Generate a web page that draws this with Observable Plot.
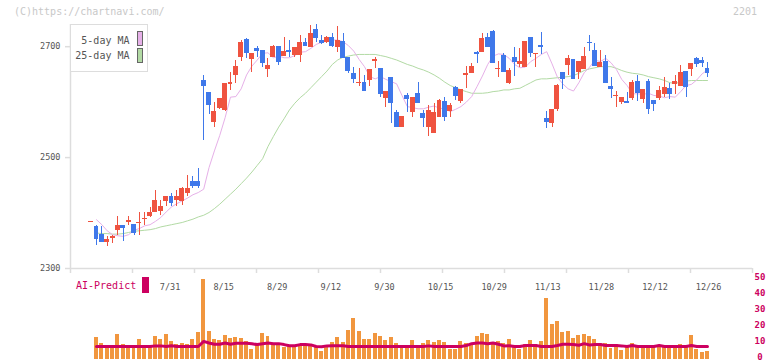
<!DOCTYPE html>
<html><head><meta charset="utf-8">
<script src="https://cdn.jsdelivr.net/npm/d3@7"></script>
<script src="https://cdn.jsdelivr.net/npm/@observablehq/plot@0.6"></script>
<style>
body{margin:0;background:#fff;}
#wrap{position:relative;width:772px;height:361px;overflow:hidden;font-family:"DejaVu Sans Mono",monospace;}
#wrap svg{position:absolute;left:0;}
.abs{position:absolute;white-space:nowrap;line-height:12px;}
</style></head><body><div id="wrap"></div>
<script>
// ---- data (index -1 is the first, volume-less bar) ----
const firstIndex = -1;
const open  = [2383,2376,2361,2347,2355,2369,2378,2383,2379,2381,2388,2394,2401,2403,2420,2430,2423,2420,2436,2456,2456,
2639,2618,2564,2588,2585,2631,2648,2681,2713,2677,2696,2693,2659,2680,2700,2682,2693,2684,2684,2708,
2699,2731,2712,2708,2716,2699,2709,2681,2652,2634,2636,2639,2674,2660,2607,2645,2582,2555,2612,2582,
2616,2580,2555,2544,2572,2601,2583,2627,2601,2648,2652,2689,2689,2716,2727,2658,2684,2633,2680,2668,
2663,2716,2686,2702,2571,2562,2586,2653,2666,2677,2654,2658,2707,2693,2663,2674,2628,2610,2600,2601,
2607,2637,2605,2637,2603,2606,2614,2625,2632,2628,2655,2658,2678,2675,2660];
const high  = [2383,2378,2376,2358,2360,2394,2378,2394,2379,2401,2401,2410,2441,2423,2430,2435,2441,2446,2468,2466,2481,
2648,2618,2600,2607,2633,2654,2675,2711,2715,2688,2700,2693,2679,2702,2700,2717,2711,2699,2720,2714,
2738,2740,2720,2718,2723,2736,2723,2681,2663,2660,2648,2658,2681,2660,2619,2645,2585,2574,2615,2608,
2636,2585,2594,2597,2604,2609,2598,2628,2623,2664,2669,2691,2723,2723,2729,2674,2687,2660,2698,2696,
2709,2716,2688,2725,2583,2587,2632,2653,2684,2677,2673,2698,2720,2705,2693,2684,2645,2619,2609,2618,
2639,2648,2623,2640,2603,2629,2645,2633,2648,2666,2655,2670,2681,2681,2672];
const low   = [2383,2342,2346,2340,2345,2360,2349,2378,2360,2360,2378,2392,2401,2396,2411,2411,2411,2414,2429,2445,2445,
2531,2578,2555,2586,2583,2621,2633,2674,2678,2654,2680,2662,2645,2680,2666,2682,2681,2681,2672,2700,
2698,2708,2704,2705,2698,2690,2679,2651,2634,2629,2620,2629,2660,2608,2591,2562,2554,2554,2582,2572,
2598,2555,2538,2543,2572,2565,2573,2603,2598,2624,2651,2670,2689,2698,2670,2645,2654,2632,2647,2663,
2663,2680,2662,2686,2552,2554,2583,2622,2648,2641,2641,2658,2692,2664,2663,2634,2607,2591,2596,2597,
2603,2601,2598,2578,2583,2603,2608,2605,2614,2628,2608,2647,2663,2663,2645];
const close = [2383,2353,2347,2352,2358,2378,2373,2387,2364,2383,2391,2401,2423,2412,2430,2418,2430,2445,2444,2448,2447,
2629,2594,2583,2606,2633,2636,2664,2708,2687,2688,2692,2670,2666,2700,2672,2691,2690,2698,2707,2700,
2723,2714,2705,2716,2701,2711,2679,2655,2641,2636,2620,2658,2676,2614,2619,2598,2555,2574,2605,2608,
2598,2571,2585,2582,2603,2573,2594,2611,2623,2651,2664,2686,2715,2698,2670,2660,2654,2657,2671,2673,
2709,2687,2688,2699,2564,2587,2630,2641,2679,2641,2673,2682,2705,2664,2672,2634,2623,2612,2608,2598,
2635,2616,2623,2587,2596,2621,2627,2614,2637,2654,2627,2670,2667,2670,2652];
// moving averages, from index 0
const ma5 = [2388,2379,2368,2361,2359,2358,2361,2369,2372,2377,2379,2385,2392,2402,2411,2417,2422,2427,2433,2437,
2443,2482,2512,2540,2572,2609,2610,2624,2649,2665,2676,2688,2689,2680,2683,2680,2680,2684,2690,2691,
2697,2704,2708,2710,2712,2712,2709,2702,2692,2677,2664,2646,2642,2646,2641,2637,2633,2612,2592,2590,
2588,2588,2591,2593,2589,2588,2583,2587,2592,2600,2610,2628,2647,2668,2683,2687,2686,2679,2668,2662,
2663,2673,2679,2686,2691,2669,2645,2633,2624,2620,2635,2653,2663,2676,2673,2679,2671,2659,2641,2630,
2615,2615,2614,2616,2612,2611,2608,2610,2609,2619,2630,2632,2640,2651,2658];
const ma25 = [2364,2363,2363,2362,2362,2363,2365,2367,2368,2369,2370,2372,2375,2377,2379,2381,2383,2386,2389,2393,
2396,2401,2408,2416,2425,2434,2443,2453,2463,2474,2486,2498,2520,2538,2555,2570,2586,2598,2608,2616,
2626,2636,2646,2656,2668,2676,2681,2683,2685,2686,2686,2686,2686,2684,2682,2679,2676,2672,2668,2665,
2661,2658,2654,2649,2643,2636,2630,2626,2622,2619,2616,2616,2616,2617,2619,2620,2622,2622,2624,2625,
2630,2635,2640,2642,2642,2643,2644,2645,2646,2648,2652,2657,2660,2662,2664,2664,2664,2661,2657,2654,
2652,2651,2649,2646,2644,2642,2639,2635,2634,2636,2638,2639,2639,2639,2639];
const volume = [13.6,9.9,7,7,15.3,9.1,7,7,12.2,7.4,7.4,14.1,12.2,15.3,11.1,9.1,9.9,9.1,12.2,16.8,
49.7,17.2,12.2,11.6,14.7,13,13.6,13,10.7,6.1,9,16.2,14.1,10,10,7.4,8.3,8.3,9,8.5,
8,7,4.9,7.8,10.5,13.6,10.5,17.8,25.5,17.2,12.2,12.2,16.2,14.1,11.6,13.6,9.9,7.8,7.8,11.6,
7.8,9.9,11.6,10.5,11.6,10.5,5.9,5.9,11,9.9,9.1,14.1,16.2,15.3,9.9,11,9.9,12.2,7.4,5.9,
9.2,11.6,9.1,11,38,21.6,23.4,16.7,17.2,13,14.7,15.4,14.1,12.2,9.8,9.8,6.8,9.1,5.3,7.8,
9.7,7.8,7.8,7.8,7.8,7.8,7.8,7.8,7.8,9.1,7.8,14.7,5.9,4.3,4.9];
const aiPredict = [7.8,7.8,7.8,7.8,7.8,7.8,7.8,7.8,7.8,7.8,7.8,8.2,8.2,7.8,8.3,7.8,7.8,7.8,7.8,7.8,
11,10,9.2,9.2,10,9.2,9.8,9.8,9.8,9.5,9,9.5,10,9.6,9.6,9,8.3,8.3,9,9,
8.8,7.8,7.6,8.2,8.3,8.3,8.3,7.8,7.8,7.8,7.8,7.8,7.8,7.8,7.8,7.8,7.8,7.8,7.8,7.8,
7.8,7.8,8.2,7.8,7.8,7.8,7.8,7.8,7.8,8.4,9.6,10,10,9.6,10,9.2,8.2,8.3,7.8,7.8,
8.4,8.4,8.4,7.8,7.8,7.8,8.4,9.2,9.2,9,8.6,9.6,8.8,9,9,8.4,8.4,8.4,8.2,7.8,
8.4,7.8,7.8,7.8,7.8,8.4,7.8,7.8,7.8,7.8,7.8,8.4,7.8,7.8,7.8];
const dateLabels = ["7/31","8/15","8/29","9/12","9/30","10/15","10/29","11/13","11/28","12/12","12/26"];
const dateLabelIndex = [12,22,32,42,52,62,72,82,92,102,112];
const priceTicks = [2300,2500,2700];
const volumeTicks = [0,10,20,30,40,50];
const legendLabels = ["5-day MA","25-day MA"];
const watermark = "(C)https://chartnavi.com/";
const code = "2201";
const aiLabel = "AI-Predict";

// ---- styles ----
const UP = "#ef5340", DOWN = "#3f78ea", PINK = "#e6b0e8", GREEN = "#b2daa4";
const ORANGE = "#f1963e", CRIMSON = "#cc0060", AXIS = "#dddddd", TXT = "#555555";

const candles = open.map((o,k)=>({i:k+firstIndex,o,h:high[k],l:low[k],c:close[k]}));
const up = candles.filter(d=>d.c>=d.o), down = candles.filter(d=>d.c<d.o);
const ma5Data = ma5.map((v,k)=>({i:k,v})), ma25Data = ma25.map((v,k)=>({i:k,v}));
const volData = volume.map((v,k)=>({i:k,v})), aiData = aiPredict.map((v,k)=>({i:k,v}));

const xDomain = [-4.85, 122.4];
const yDomain = [2300, 2740];
const xTicks = d3.range(12).map(k => xDomain[0] + k*(xDomain[1]-xDomain[0])/11);
const tickLen = (yDomain[1]-yDomain[0]) * 5 / 244; // 5px downward tick
const bw = 0.46, vw = 0.37;
const body = (data, fill) => Plot.rect(data, {
  x1: d=>d.i-bw, x2: d=>d.i+bw,
  y1: d=>Math.min(d.o,d.c), y2: d=>Math.max(d.o,d.c,Math.min(d.o,d.c)+1.8),
  fill, shapeRendering: "crispEdges"});
const wick = (data, stroke) => Plot.ruleX(data, {x:"i", y1:"l", y2:"h", stroke, strokeWidth:1, shapeRendering:"crispEdges"});

const topPlot = Plot.plot({
  width: 772, height: 280, marginLeft: 70, marginRight: 20, marginTop: 24, marginBottom: 12,
  x: {type:"linear", domain: xDomain, axis: null},
  y: {domain: yDomain, axis: null},
  style: {background:"transparent", fontFamily:"DejaVu Sans Mono, monospace", fontSize:"8.5px", overflow:"visible"},
  marks: [
    Plot.ruleX(xTicks, {y1: yDomain[0], y2: yDomain[0] - tickLen, stroke:AXIS, strokeWidth:1.5}),
    Plot.axisY(priceTicks, {anchor:"left", tickSize:5, tickPadding:5, stroke:AXIS, strokeWidth:1.5, fill:TXT, tickFormat:d=>String(d)}),
    Plot.ruleY([yDomain[0]], {stroke:AXIS, strokeWidth:1.5}),
    Plot.ruleX([xDomain[0]], {stroke:AXIS, strokeWidth:1.5}),
    Plot.line(ma25Data, {x:"i", y:"v", stroke:GREEN, strokeWidth:1}),
    Plot.line(ma5Data, {x:"i", y:"v", stroke:PINK, strokeWidth:1}),
    wick(up, UP), wick(down, DOWN),
    body(up, UP), body(down, DOWN)
  ]
});
topPlot.style.top = "0px";

const botPlot = Plot.plot({
  width: 772, height: 91, marginLeft: 70, marginRight: 20, marginTop: 8.5, marginBottom: 2.5,
  x: {type:"linear", domain: xDomain, axis: null},
  y: {domain: [0, 50], axis: null},
  style: {background:"transparent", fontFamily:"DejaVu Sans Mono, monospace", fontSize:"8.5px", overflow:"visible"},
  marks: [
    Plot.rect(volData, {x1:d=>d.i-vw, x2:d=>d.i+vw, y1:0, y2:"v", fill:ORANGE, shapeRendering:"crispEdges"}),
    Plot.line(aiData, {x:"i", y:"v", stroke:CRIMSON, strokeWidth:3}),
    Plot.text(volumeTicks, {y:d=>d, text:d=>String(d), frameAnchor:"right", dx:7.5, dy:-1.5, textAnchor:"middle", fill:CRIMSON, fontSize:9, fontWeight:"bold"}),
    Plot.text(dateLabelIndex, {x:d=>d, text:(d,k)=>dateLabels[k], frameAnchor:"top", textAnchor:"start", dx:-1, dy:4.5, fill:TXT})
  ]
});
botPlot.style.top = "270px";

const wrap = document.getElementById("wrap");
wrap.append(topPlot, botPlot);

function addDiv(text, css){ const d=document.createElement("div"); d.className="abs"; d.textContent=text; Object.assign(d.style, css); wrap.append(d); return d; }
addDiv(watermark, {left:"14px", top:"6px", fontSize:"10px", color:"#c8c8c8"});
addDiv(code, {left:"733px", top:"6px", fontSize:"10px", color:"#c8c8c8"});
// legend box
addDiv("", {left:"70px", top:"24px", width:"78px", height:"48px", boxSizing:"border-box", border:"1px solid #ddd", background:"#fff"});
addDiv(legendLabels[0], {right:(772-129.5)+"px", top:"34.7px", fontSize:"10px", color:TXT, textAlign:"right"});
addDiv(legendLabels[1], {right:(772-129.5)+"px", top:"49.7px", fontSize:"10px", color:TXT, textAlign:"right"});
addDiv("", {left:"136.5px", top:"31px", width:"6px", height:"15px", boxSizing:"border-box", border:"1px solid #666", background:PINK});
addDiv("", {left:"136.5px", top:"48.3px", width:"6px", height:"15px", boxSizing:"border-box", border:"1px solid #666", background:GREEN});
// AI-Predict label
addDiv(aiLabel, {left:"76px", top:"280px", fontSize:"10px", color:CRIMSON});
addDiv("", {left:"142px", top:"277px", width:"7px", height:"16px", background:CRIMSON});
</script></body></html>
